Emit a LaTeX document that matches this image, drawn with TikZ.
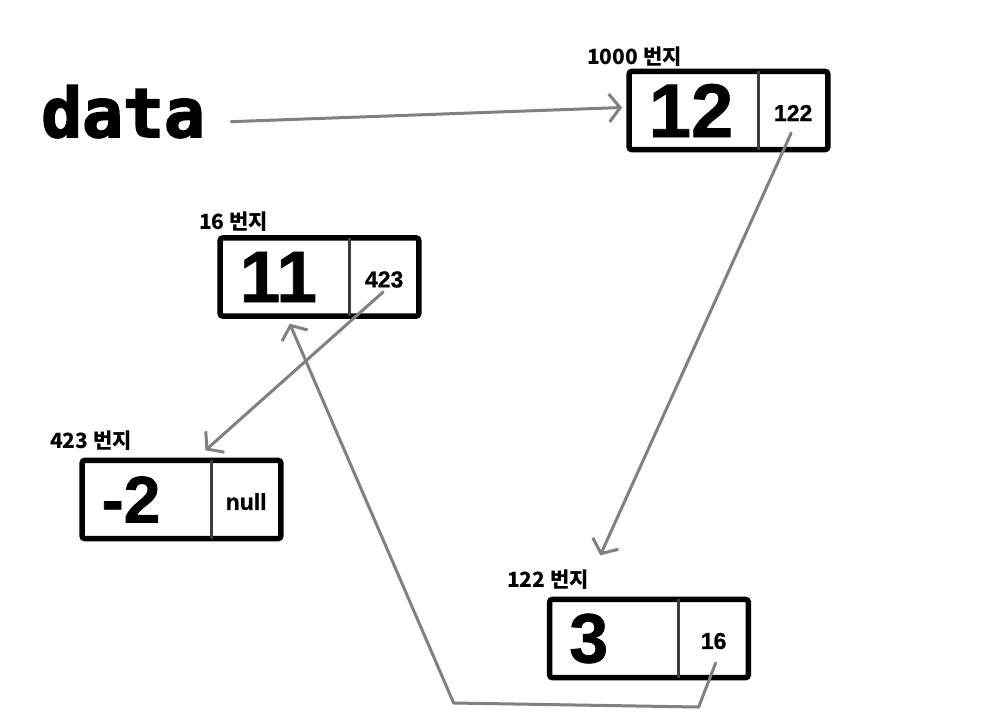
\documentclass[tikz,border=0pt]{standalone}
\usepackage{fontspec}
\setmainfont{Liberation Sans}[BoldFeatures={FakeBold=1}]
\newfontfamily\monofont{DejaVu Sans Mono}[BoldFeatures={FakeBold=2.5}]
\newfontfamily\kfont{Noto Sans CJK KR}
\usepackage{tikz}
\usetikzlibrary{arrows.meta,positioning,calc}
\definecolor{link}{RGB}{128,128,128}
\definecolor{divline}{RGB}{60,60,60}

\begin{document}
\begin{tikzpicture}[x=1pt, y=-1pt,
  valcell/.style={inner xsep=19.5pt, inner ysep=0pt, text width=90pt, align=left,
    minimum height=78pt, font=\bfseries\fontsize{#1}{#1}\selectfont},
  ptrcell/.style={inner sep=0pt, minimum width=69pt, minimum height=78pt, text height=21pt,
    font=\bfseries\fontsize{23}{23}\selectfont},
  addr/.style={anchor=west, inner sep=0pt, font=\kfont\bfseries\fontsize{21}{21}\selectfont},
  boxline/.style={line width=5.5pt, rounded corners=3pt},
  ptr/.style={link, line width=3pt, line cap=round, line join=round,
    -{Straight Barb[length=11pt,width=28pt]}}]
\useasboundingbox (0,0) rectangle (1000,724);
% head
\node[anchor=base west, inner sep=0pt, font=\monofont\bfseries\fontsize{68}{68}\selectfont]
  (data) at (41,137) {data};
% node at 1000
\node[valcell=76] (v1000) at (693.75,110.5) {12};
\node[ptrcell, right=0pt of v1000] (p1000) {122};
\draw[boxline] (v1000.north west) rectangle (p1000.south east);
\draw[divline, line width=3pt] (v1000.north east) -- (v1000.south east);
\node[addr] (a1000) at (587,57) {1000 번지};
% node at 16
\node[valcell=73] (v16) at (284.75,277) {11};
\node[ptrcell, right=0pt of v16] (p16) {423};
\draw[boxline] (v16.north west) rectangle (p16.south east);
\draw[divline, line width=3pt] (v16.north east) -- (v16.south east);
\node[addr] (a16) at (199,222) {16 번지};
% node at 423
\node[valcell=66] (v423) at (146.75,499.5) {-2};
\node[ptrcell, right=0pt of v423] (p423) {null};
\draw[boxline] (v423.north west) rectangle (p423.south east);
\draw[divline, line width=3pt] (v423.north east) -- (v423.south east);
\node[addr] (a423) at (50,441) {423 번지};
% node at 122
\node[valcell=70] (v122) at (614.25,638.5) {3};
\node[ptrcell, right=0pt of v122] (p122) {16};
\draw[boxline] (v122.north west) rectangle (p122.south east);
\draw[divline, line width=3pt] (v122.north east) -- (v122.south east);
\node[addr] (a122) at (507,580) {122 번지};
% links
\draw[ptr] ($(data.east)+(26,10)$) -- ($(v1000.west)+(-7,-3)$);
\draw[ptr] ($(p1000.center)+(-2,22.5)$) -- ($(v122.north)+(-14,-44)$);
\draw[ptr] ($(p16.center)+(-1,15)$) -- ($(v423.north east)+(-6,-10)$);
\draw[ptr] ($(p122.center)+(2,24.5)$) -- ++(-17,44) -- ++(-245,-4) -- ($(v16.south)+(5,7.5)$);
\end{tikzpicture}
\end{document}
